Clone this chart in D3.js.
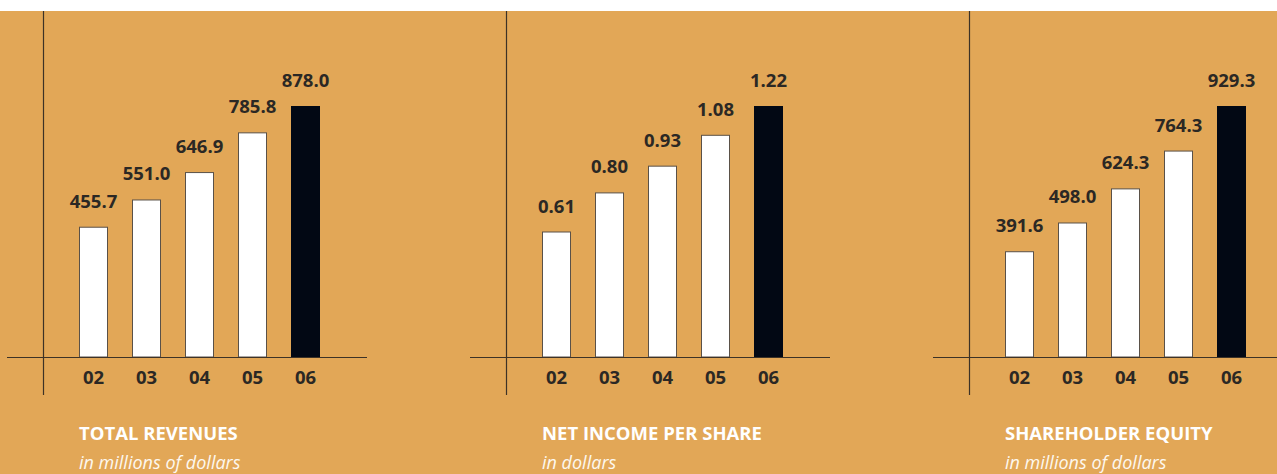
<!DOCTYPE html>
<html>
<head>
<meta charset="utf-8">
<style>
  html, body { margin: 0; padding: 0; background: #fff; }
  svg { display: block; }
  text { font-family: "Open Sans", sans-serif; }
</style>
</head>
<body>
<script src="https://cdn.jsdelivr.net/npm/d3@7/dist/d3.min.js"></script>
<script>
  const width = 1277
  const height = 474

  const years = ["02", "03", "04", "05", "06"]
  const revenues = [455.7, 551.0, 646.9, 785.8, 878.0]
  const netIncome = [0.61, 0.80, 0.93, 1.08, 1.22]
  const equity = [391.6, 498.0, 624.3, 764.3, 929.3]
  const titles = ["TOTAL REVENUES", "NET INCOME PER SHARE", "SHAREHOLDER EQUITY"]
  const subtitles = ["in millions of dollars", "in dollars", "in millions of dollars"]
  const labelFormats = [".1f", ".2f", ".1f"]

  const panels = [revenues, netIncome, equity].map((values, i) => ({
    values: values,
    title: titles[i],
    subtitle: subtitles[i],
    format: d3.format(labelFormats[i])
  }))

  const panelOffset = 463
  const baseY = 357
  const topY = 106

  const svg = d3.select("body")
    .append("svg")
    .attr("width", width)
    .attr("height", height)

  // orange page background, white strip on top
  svg.append("rect")
    .attr("x", 0)
    .attr("y", 11)
    .attr("width", width)
    .attr("height", height - 11)
    .attr("fill", "#e2a757")

  function renderPanel(panel, i) {
    const g = svg.append("g")
      .attr("transform", `translate(${i * panelOffset}, 0)`)

    const x = d3.scaleBand()
      .domain(years)
      .range([67, 332])
      .paddingInner(24 / 53)
      .paddingOuter(12 / 53)

    const y = d3.scaleLinear()
      .domain([0, d3.max(panel.values)])
      .range([baseY, topY])

    const data = years.map((yr, j) => ({ year: yr, value: panel.values[j], last: j === years.length - 1 }))

    g.selectAll("rect.bar")
      .data(data)
      .enter()
      .append("rect")
      .classed("bar", true)
      .attr("x", d => x(d.year) + 0.5)
      .attr("y", d => y(d.value) + 0.5)
      .attr("width", x.bandwidth() - 1)
      .attr("height", d => baseY - y(d.value) - 0.5)
      .attr("fill", d => d.last ? "#020814" : "#ffffff")
      .attr("stroke", d => d.last ? "#020814" : "#5a5148")
      .attr("stroke-width", 1)

    // axis lines
    g.append("line")
      .attr("x1", 43.5).attr("x2", 43.5)
      .attr("y1", 11).attr("y2", 395)
      .attr("stroke", "#3d3226")
      .attr("stroke-width", 1.2)

    g.append("line")
      .attr("x1", 7).attr("x2", i === 2 ? 400 : 367)
      .attr("y1", baseY + 0.5).attr("y2", baseY + 0.5)
      .attr("stroke", "#3d3226")
      .attr("stroke-width", 1.2)

    // value labels
    g.selectAll("text.value")
      .data(data)
      .enter()
      .append("text")
      .classed("value", true)
      .attr("x", d => x(d.year) + x.bandwidth() / 2)
      .attr("y", d => y(d.value) - 19)
      .attr("text-anchor", "middle")
      .attr("font-size", 18.5)
      .attr("font-weight", 700)
      .attr("fill", "#2b2824")
      .text(d => panel.format(d.value))

    // year labels
    g.selectAll("text.year")
      .data(data)
      .enter()
      .append("text")
      .classed("year", true)
      .attr("x", d => x(d.year) + x.bandwidth() / 2)
      .attr("y", 384)
      .attr("text-anchor", "middle")
      .attr("font-size", 18.5)
      .attr("font-weight", 700)
      .attr("fill", "#2b2824")
      .text(d => d.year)

    g.append("text")
      .attr("x", 79)
      .attr("y", 439.5)
      .attr("font-size", 18.5)
      .attr("font-weight", 700)
      .attr("fill", "#ffffff")
      .text(panel.title)

    g.append("text")
      .attr("x", 79)
      .attr("y", 469)
      .attr("font-size", 18)
      .attr("font-style", "italic")
      .attr("fill", "#fdf8ef")
      .text(panel.subtitle)
  }

  panels.forEach(renderPanel)
</script>
</body>
</html>
